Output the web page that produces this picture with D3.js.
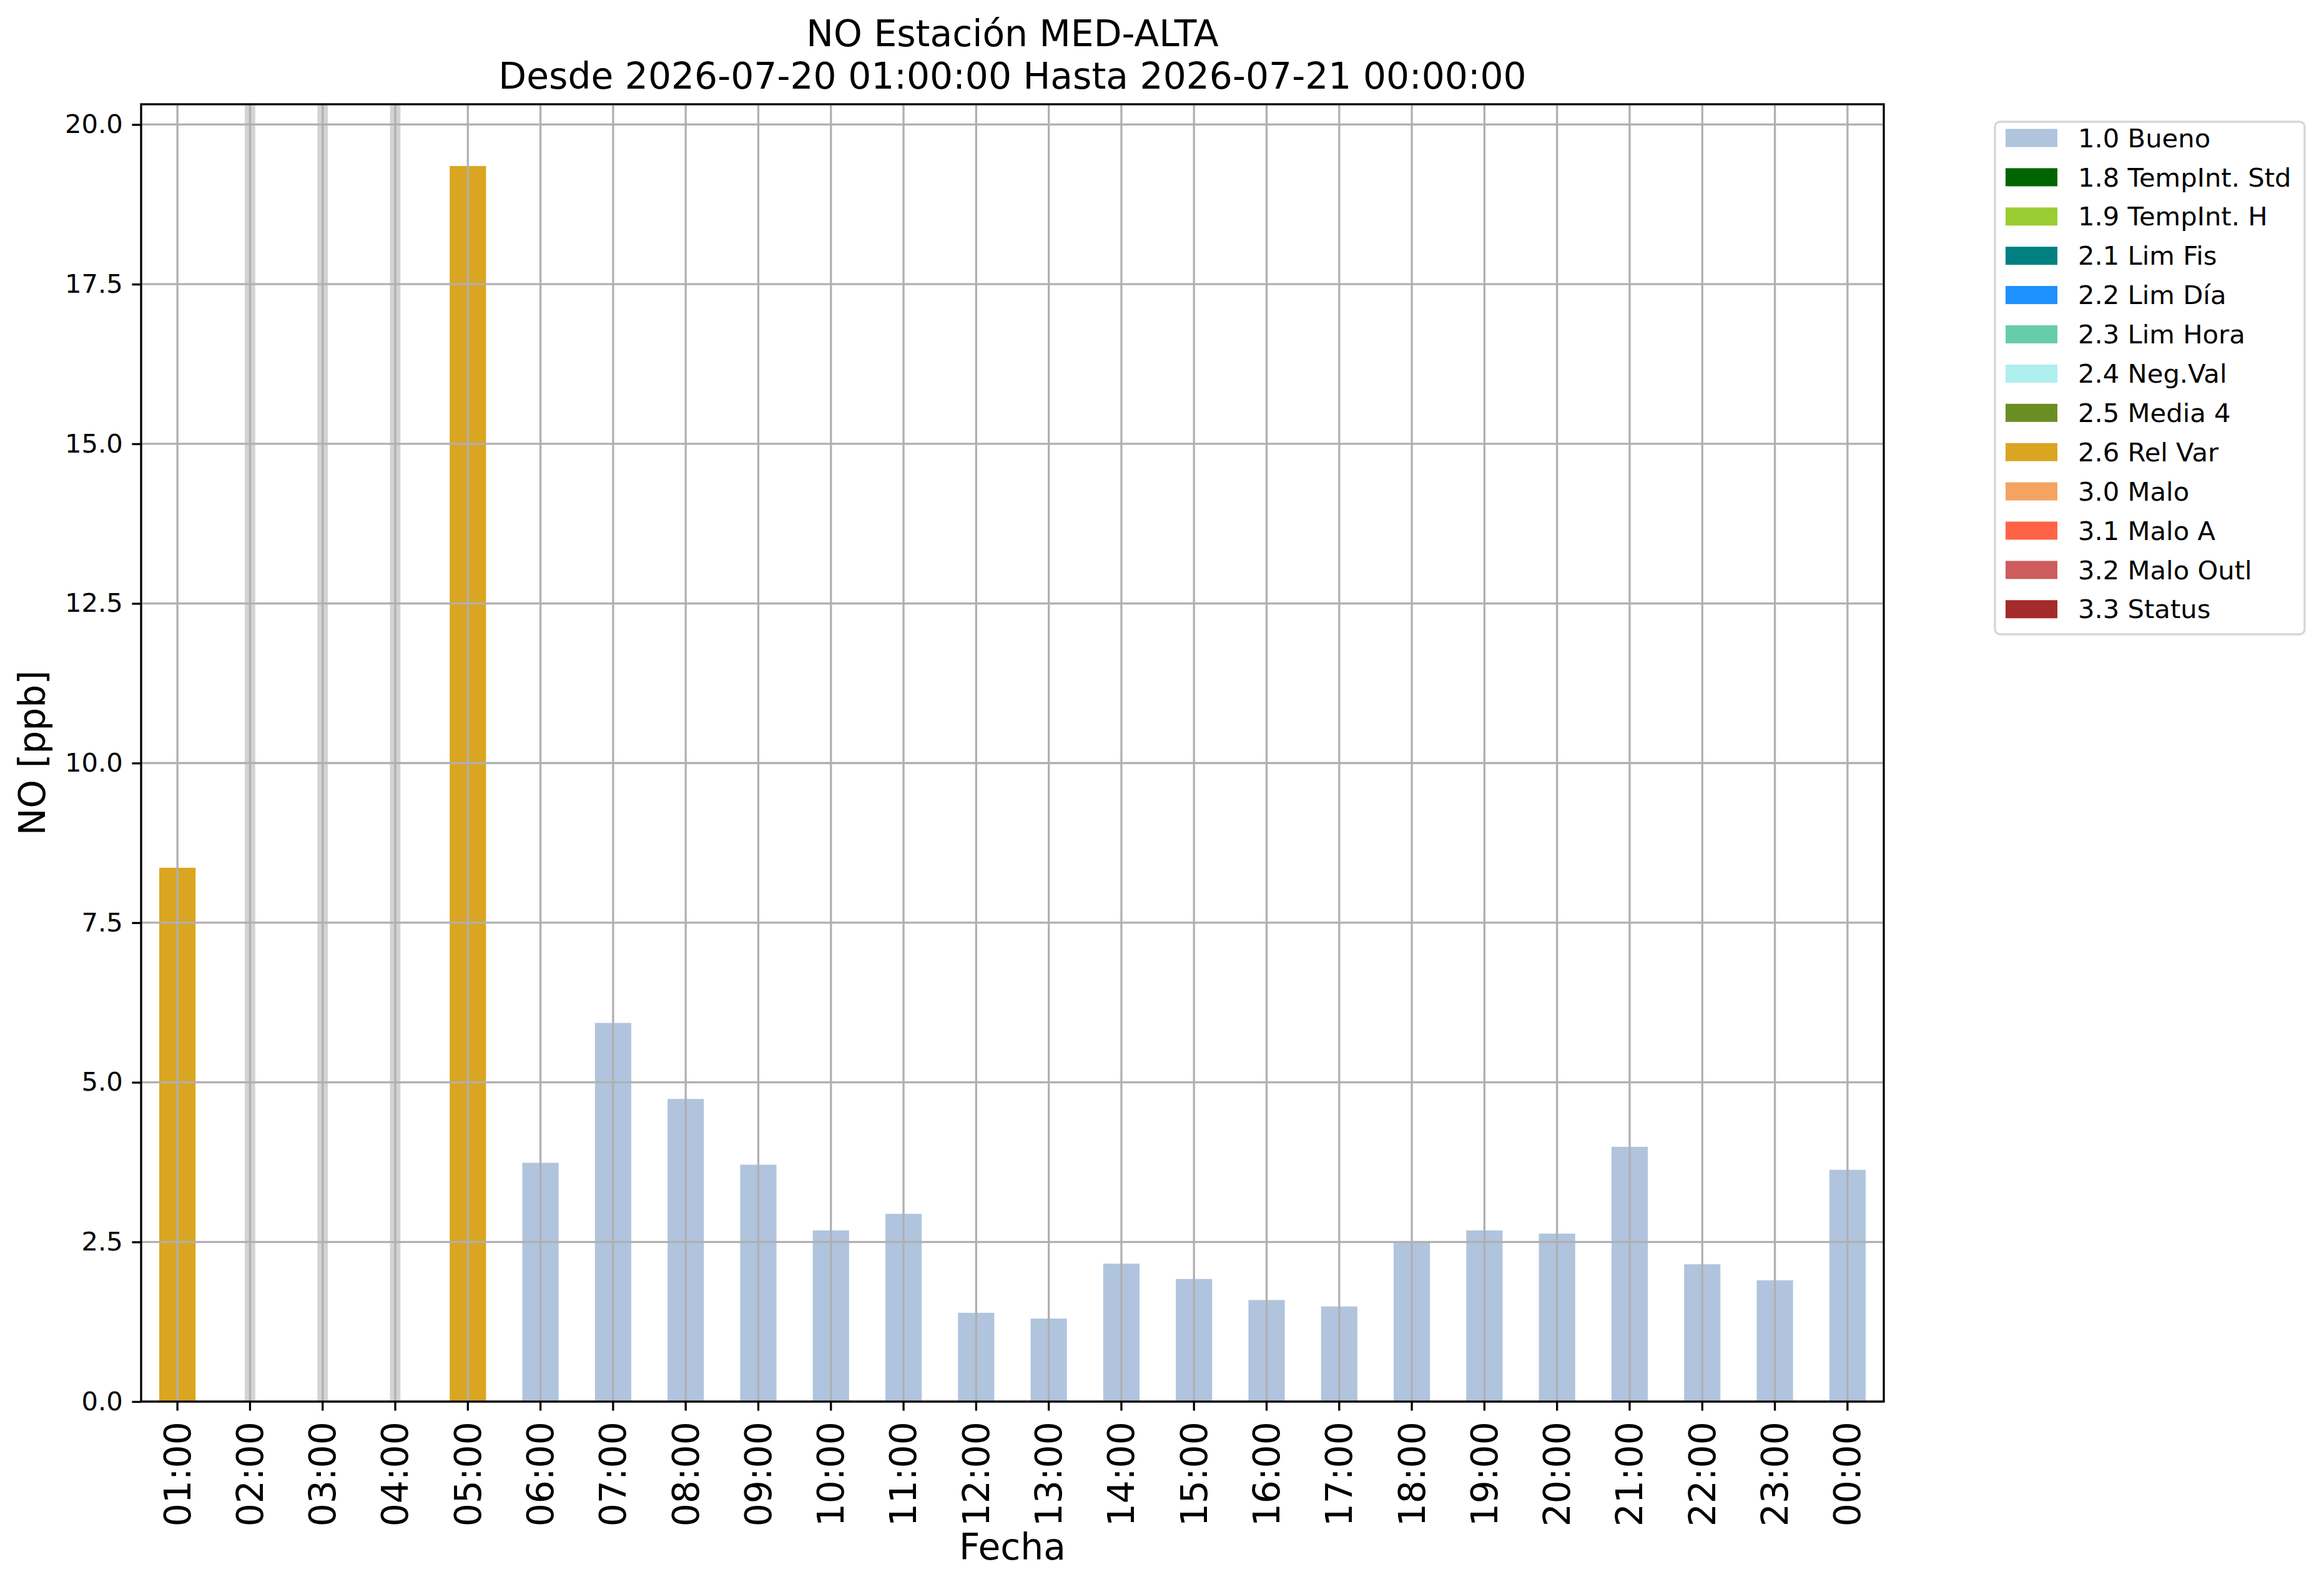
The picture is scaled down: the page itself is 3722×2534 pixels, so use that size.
<!DOCTYPE html>
<html>
<head>
<meta charset="utf-8">
<script src="https://cdn.jsdelivr.net/npm/d3@7"></script>
<style>
  html, body { margin: 0; padding: 0; background: #ffffff; }
  text { font-family: "DejaVu Sans", sans-serif; fill: #000; }
</style>
</head>
<body>
<script>
// ---------- data ----------
const hours = ["01:00","02:00","03:00","04:00","05:00","06:00","07:00","08:00","09:00","10:00","11:00","12:00",
               "13:00","14:00","15:00","16:00","17:00","18:00","19:00","20:00","21:00","22:00","23:00","00:00"];
const values = [8.36, null, null, null, 19.35, 3.74, 5.93, 4.74, 3.71, 2.68, 2.94, 1.39,
                1.30, 2.16, 1.92, 1.59, 1.49, 2.50, 2.68, 2.63, 3.99, 2.15, 1.90, 3.63];
const flags = ["2.6 Rel Var", null, null, null, "2.6 Rel Var", "1.0 Bueno", "1.0 Bueno", "1.0 Bueno",
               "1.0 Bueno", "1.0 Bueno", "1.0 Bueno", "1.0 Bueno", "1.0 Bueno", "1.0 Bueno", "1.0 Bueno",
               "1.0 Bueno", "1.0 Bueno", "1.0 Bueno", "1.0 Bueno", "1.0 Bueno", "1.0 Bueno", "1.0 Bueno",
               "1.0 Bueno", "1.0 Bueno"];
const legendLabels = ["1.0 Bueno","1.8 TempInt. Std","1.9 TempInt. H","2.1 Lim Fis","2.2 Lim Día","2.3 Lim Hora",
                      "2.4 Neg.Val","2.5 Media 4","2.6 Rel Var","3.0 Malo","3.1 Malo A","3.2 Malo Outl","3.3 Status"];
const legendColors = ["#b0c4de","#006400","#9acd32","#008080","#1e90ff","#66cdaa",
                      "#afeeee","#6b8e23","#daa520","#f4a460","#ff6347","#cd5c5c","#a52a2a"];
const yTicks = [0, 2.5, 5, 7.5, 10, 12.5, 15, 17.5, 20];
const titleLines = ["NO Estación MED-ALTA", "Desde 2026-07-20 01:00:00 Hasta 2026-07-21 00:00:00"];
const yLabel = "NO [ppb]";
const xLabel = "Fecha";

// ---------- layout ----------
const W = 3722, H = 2534;
const L = 226, R = 3017, T = 167, B = 2245;
const lw = 3.3, tickLen = 14.6, tickPad = 14.6;

const svg = d3.select("body").append("svg").attr("width", W).attr("height", H)
  .attr("viewBox", `0 0 ${W} ${H}`);

const x = d3.scaleBand().domain(hours).range([L, R]).paddingInner(0.5).paddingOuter(0.25);
const yMax = d3.max(values) * 1.05;
const y = d3.scaleLinear().domain([0, yMax]).range([B, T]);
const color = d3.scaleOrdinal().domain(legendLabels).range(legendColors);
const xc = h => x(h) + x.bandwidth() / 2;

// missing-data bands
svg.append("g").selectAll("line").data(hours.filter((h, i) => values[i] === null)).join("line")
  .attr("x1", xc).attr("x2", xc).attr("y1", T).attr("y2", B)
  .attr("stroke", "#d3d3d3").attr("stroke-width", 16.7);

// bars
const idx = d3.range(hours.length).filter(i => values[i] !== null);
svg.append("g").selectAll("rect").data(idx).join("rect")
  .attr("x", i => x(hours[i])).attr("width", x.bandwidth())
  .attr("y", i => y(values[i])).attr("height", i => y(0) - y(values[i]))
  .attr("fill", i => color(flags[i]));

// grid (drawn above bars)
const grid = svg.append("g").attr("stroke", "#b0b0b0").attr("stroke-width", lw);
grid.selectAll("line.gy").data(yTicks).join("line").attr("class", "gy")
  .attr("x1", L).attr("x2", R).attr("y1", d => y(d)).attr("y2", d => y(d));
grid.selectAll("line.gx").data(hours).join("line").attr("class", "gx")
  .attr("x1", xc).attr("x2", xc).attr("y1", T).attr("y2", B);

// axes
const yAxis = d3.axisLeft(y).tickValues(yTicks).tickFormat(d3.format(".1f"))
  .tickSize(tickLen).tickPadding(tickPad);
const gy = svg.append("g").attr("transform", `translate(${L},0)`).call(yAxis);
gy.select(".domain").remove();
gy.selectAll(".tick line").attr("stroke", "#000").attr("stroke-width", lw);
gy.selectAll(".tick text").attr("font-size", 41.7).attr("font-family", "DejaVu Sans").attr("fill", "#000");

const xAxis = d3.axisBottom(x).tickSize(tickLen).tickPadding(0);
const gx = svg.append("g").attr("transform", `translate(0,${B})`).call(xAxis);
gx.select(".domain").remove();
gx.selectAll(".tick line").attr("stroke", "#000").attr("stroke-width", lw);
gx.selectAll(".tick text").attr("font-size", 58.3).attr("font-family", "DejaVu Sans").attr("fill", "#000")
  .attr("text-anchor", "end").attr("dy", "0.35em")
  .attr("transform", `translate(0,${tickLen + tickPad + 3}) rotate(-90)`).attr("x", 0).attr("y", 0);

// spines
svg.append("rect").attr("x", L).attr("y", T).attr("width", R - L).attr("height", B - T)
  .attr("fill", "none").attr("stroke", "#000").attr("stroke-width", lw);

// titles
svg.append("g").selectAll("text").data(titleLines).join("text")
  .attr("x", (L + R) / 2).attr("y", (d, i) => 74 + i * 68)
  .attr("text-anchor", "middle").attr("font-size", 58.3).text(d => d);

svg.append("text").attr("transform", `translate(52,${(T + B) / 2}) rotate(-90)`)
  .attr("text-anchor", "middle").attr("dy", "0.35em").attr("font-size", 58.3).text(yLabel);
svg.append("text").attr("x", (L + R) / 2).attr("y", 2498)
  .attr("text-anchor", "middle").attr("font-size", 58.3).text(xLabel);

// legend
const lx = 3195, ly = 195, lwid = 496, lhei = 821;
svg.append("rect").attr("x", lx).attr("y", ly).attr("width", lwid).attr("height", lhei)
  .attr("rx", 8).attr("fill", "#fff").attr("stroke", "#d6d6d6").attr("stroke-width", 3.3);
const rowY = i => 221 + i * 62.9;
const leg = svg.append("g").selectAll("g").data(legendLabels).join("g")
  .attr("transform", (d, i) => `translate(0,${rowY(i)})`);
leg.append("rect").attr("x", 3212).attr("y", -14.5).attr("width", 83).attr("height", 29)
  .attr("fill", d => color(d));
leg.append("text").attr("x", 3328).attr("y", 0).attr("dy", "0.35em")
  .attr("font-size", 41.7).text(d => d);
</script>
</body>
</html>
